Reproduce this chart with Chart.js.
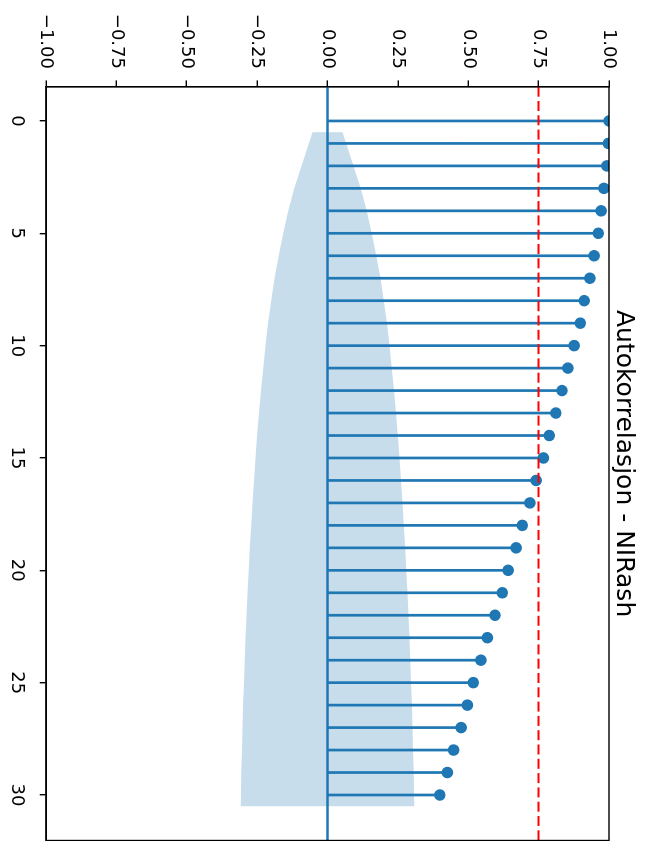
<!DOCTYPE html>
<html><head><meta charset="utf-8">
<script src="https://cdn.jsdelivr.net/npm/chart.js@4.4.1/dist/chart.umd.min.js"></script>
<style>
html,body{margin:0;padding:0;background:#fff;overflow:hidden;width:648px;height:841px;}
#wrap{position:absolute;left:0;top:0;width:841px;height:648px;transform-origin:0 0;transform:translateX(648px) rotate(90deg);}
canvas{display:block;}
</style></head><body>
<div id="wrap"><canvas id="c" width="841" height="648"></canvas></div>
<script>
const chartTitle = 'Autokorrelasjon - NIRash';
const lags = [0,1,2,3,4,5,6,7,8,9,10,11,12,13,14,15,16,17,18,19,20,21,22,23,24,25,26,27,28,29,30];
const acfValues = [1.000,0.998,0.992,0.982,0.972,0.962,0.947,0.932,0.912,0.898,0.876,0.854,0.833,0.811,0.788,0.767,0.741,0.719,0.692,0.670,0.642,0.621,0.595,0.568,0.545,0.518,0.497,0.475,0.448,0.426,0.399];
const bandLags = [0.5,2,3,4,5,6,7,8,9,10,11,12,13,14,15,16,17,18,19,20,21,22,23,24,25,26,27,28,29,30.5];
const bandHalfWidths = [0.053,0.092,0.118,0.139,0.157,0.173,0.188,0.200,0.211,0.220,0.228,0.236,0.243,0.250,0.256,0.261,0.266,0.271,0.276,0.280,0.284,0.288,0.291,0.294,0.297,0.300,0.302,0.304,0.306,0.308];
const lagTicks = [0,5,10,15,20,25,30];
const valueTicks = [-1,-0.75,-0.5,-0.25,0,0.25,0.5,0.75,1];
const thresholdValue = 0.75;
const lagRange = [-1.525, 32.025];
const valueRange = [-1, 1];

const C0 = '#1f77b4';
Chart.defaults.font.family = "'DejaVu Sans', sans-serif";
Chart.defaults.color = '#000';

const upper = bandLags.map((l, i) => ({x: l, y: bandHalfWidths[i]}));
const lower = bandLags.map((l, i) => ({x: l, y: -bandHalfWidths[i]})).reverse();
const bandPoly = upper.concat(lower);

const stemPts = [];
lags.forEach((l, i) => { stemPts.push({x: l, y: 0}, {x: l, y: acfValues[i]}, {x: l, y: null}); });

const framePlugin = {
  id: 'frame',
  afterDraw(chart) {
    const a = chart.chartArea, ctx = chart.ctx;
    ctx.save();
    ctx.strokeStyle = '#000';
    ctx.lineWidth = 1.4;
    ctx.strokeRect(a.left, a.top, a.right - a.left, a.bottom - a.top);
    ctx.restore();
  }
};

new Chart(document.getElementById('c'), {
  type: 'line',
  data: {
    datasets: [
      {data: bandPoly, fill: 'shape', backgroundColor: 'rgba(31,119,180,0.25)', borderWidth: 0, pointRadius: 0, order: 10, tension: 0},
      {data: stemPts, borderColor: C0, borderWidth: 2.7, pointRadius: 0, spanGaps: false, fill: false, order: 3},
      {data: [{x: lagRange[0], y: 0}, {x: lagRange[1], y: 0}], borderColor: C0, borderWidth: 2.7, pointRadius: 0, fill: false, order: 3},
      {data: lags.map((l, i) => ({x: l, y: acfValues[i]})), showLine: false, pointRadius: 5, pointBorderWidth: 1.6, pointBackgroundColor: C0, pointBorderColor: C0, order: 2},
      {data: [{x: lagRange[0], y: thresholdValue}, {x: lagRange[1], y: thresholdValue}], borderColor: '#ff0000', borderWidth: 2, borderDash: [10, 4.3], pointRadius: 0, fill: false, order: 1}
    ]
  },
  options: {
    responsive: false,
    animation: false,
    devicePixelRatio: 1,
    layout: {autoPadding: false, padding: {left: 0, right: 0.5, top: 0, bottom: 0}},
    plugins: {
      legend: {display: false},
      tooltip: {enabled: false},
      title: {display: true, text: chartTitle, fullSize: false, font: {size: 25, weight: 'normal'}, color: '#000', padding: {top: 9, bottom: 0}}
    },
    scales: {
      x: {
        type: 'linear', position: 'bottom', min: lagRange[0], max: lagRange[1],
        afterBuildTicks: s => { s.ticks = lagTicks.map(v => ({value: v})); },
        afterFit: s => { s.height = 46; s.paddingLeft = 0; s.paddingRight = 0; },
        ticks: {font: {size: 18}, color: '#000', padding: 12.5, maxRotation: 0, minRotation: 0, callback: v => String(v)},
        grid: {display: true, drawOnChartArea: false, drawTicks: true, tickLength: 6.3, color: '#000', lineWidth: 1.4},
        border: {display: true, color: '#000', width: 1.4}
      },
      y: {
        type: 'linear', position: 'left', min: valueRange[0], max: valueRange[1],
        afterBuildTicks: s => { s.ticks = valueTicks.map(v => ({value: v})); },
        afterFit: s => { s.width = 86.7; },
        ticks: {font: {size: 18}, color: '#000', padding: 11.4, callback: v => v.toFixed(2).replace('-', '\u2212')},
        grid: {display: true, drawOnChartArea: false, drawTicks: true, tickLength: 6.3, color: '#000', lineWidth: 1.4},
        border: {display: true, color: '#000', width: 1.4}
      }
    }
  },
  plugins: [framePlugin]
});
</script>
</body></html>
